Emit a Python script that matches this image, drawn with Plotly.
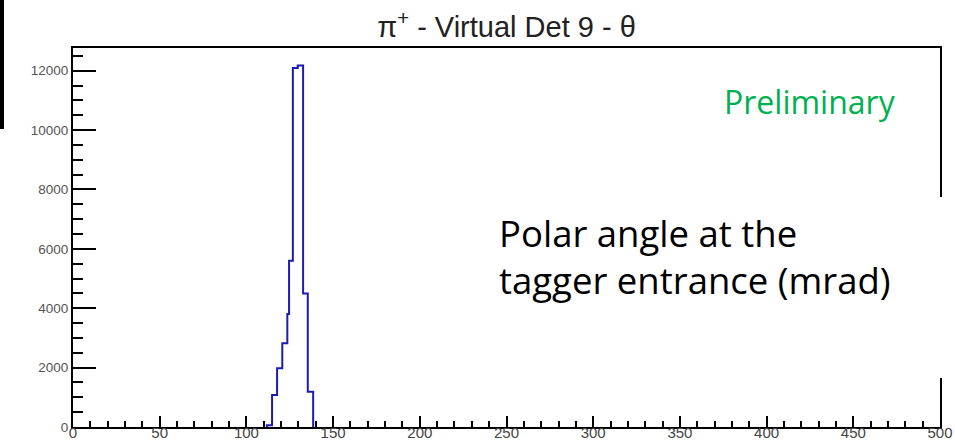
import plotly.graph_objects as go

# Histogram data (pi+ polar angle at Virtual Det 9, mrad)
bin_edges = [111.8, 114.8, 117.7, 120.7, 123.6, 124.6, 126.8, 129.6, 132.7, 135.4, 138.5]
bin_counts = [60, 1080, 1980, 2820, 3810, 5600, 12090, 12180, 4500, 1190]

x_tick_vals = [0, 50, 100, 150, 200, 250, 300, 350, 400, 450, 500]
y_tick_vals = [0, 2000, 4000, 6000, 8000, 10000, 12000]

title_text = "π<sup>+</sup> - Virtual Det 9 - θ"
note_text = "Polar angle at the<br>tagger entrance (mrad)"
prelim_text = "Preliminary"

# step outline built from bin edges and counts
xs = [bin_edges[0]]
ys = [0]
for i, c in enumerate(bin_counts):
    xs += [bin_edges[i], bin_edges[i + 1]]
    ys += [c, c]
xs.append(bin_edges[-1])
ys.append(0)

fig = go.Figure()
fig.add_trace(go.Scatter(x=xs, y=ys, mode="lines",
                         line=dict(color="#1c1cb0", width=2),
                         hoverinfo="skip", showlegend=False))

W, H = 955, 444
# plot area in page pixels: x 73..940, y 48..427
ml, mr, mt, mb = 73, 955 - 940, 48, 444 - 427
pw, ph = W - ml - mr, H - mt - mb

def px2paper_x(px):
    return (px - ml) / pw

def px2paper_y(py):
    return 1 - (py - mt) / ph

fig.update_layout(
    width=W, height=H,
    margin=dict(l=ml, r=mr, t=mt, b=mb, autoexpand=False),
    paper_bgcolor="white", plot_bgcolor="white",
    title=dict(text=title_text, x=0.5, xref="paper", xanchor="center",
               y=(H - 27) / H, yref="container", yanchor="middle",
               font=dict(family="Liberation Sans", size=29, color="#222")),
    showlegend=False,
)
fig.update_xaxes(
    range=[0, 500], showgrid=False, zeroline=False, automargin=False,
    showline=True, linecolor="black", linewidth=2, mirror=True,
    ticks="inside", ticklen=11, tickwidth=1.5, tickcolor="black",
    tickvals=x_tick_vals, ticktext=[str(v) for v in x_tick_vals],
    tickfont=dict(family="Liberation Sans", size=15, color="#444"),
    ticklabelstandoff=-9,
    minor=dict(ticks="inside", ticklen=6, dtick=10, tick0=0, tickcolor="black", tickwidth=1.5),
)
fig.update_yaxes(
    range=[0, 12766], showgrid=False, zeroline=False, automargin=False,
    showline=True, linecolor="black", linewidth=2, mirror=True,
    ticks="inside", ticklen=23, tickwidth=1.5, tickcolor="black",
    tickvals=y_tick_vals, ticktext=[str(v) for v in y_tick_vals],
    tickfont=dict(family="Liberation Sans", size=13.5, color="#555"),
    minor=dict(ticks="inside", ticklen=10, dtick=500, tick0=0, tickcolor="black", tickwidth=1.5),
)

# black bar at top-left edge
fig.add_shape(type="rect", xref="paper", yref="paper",
              x0=px2paper_x(0), x1=px2paper_x(4), y0=px2paper_y(129), y1=px2paper_y(0),
              fillcolor="black", line=dict(width=0), layer="above")
# white text box that hides part of the right frame
fig.add_shape(type="rect", xref="paper", yref="paper",
              x0=px2paper_x(480), x1=px2paper_x(955), y0=px2paper_y(378), y1=px2paper_y(197),
              fillcolor="white", line=dict(width=0), layer="above")

fig.add_annotation(text=prelim_text, xref="paper", yref="paper",
                   x=px2paper_x(898), y=px2paper_y(101), xanchor="right", yanchor="middle",
                   showarrow=False, font=dict(family="Open Sans", size=32, color="#00b050"))
fig.add_annotation(text=note_text, xref="paper", yref="paper",
                   x=px2paper_x(497), y=px2paper_y(256), xanchor="left", yanchor="middle",
                   align="left", showarrow=False,
                   font=dict(family="Open Sans", size=36.5, color="black"))

fig.write_html("out.html",
               config={"displayModeBar": False},
               post_script="document.body.style.margin='0';document.body.style.overflow='hidden';")
